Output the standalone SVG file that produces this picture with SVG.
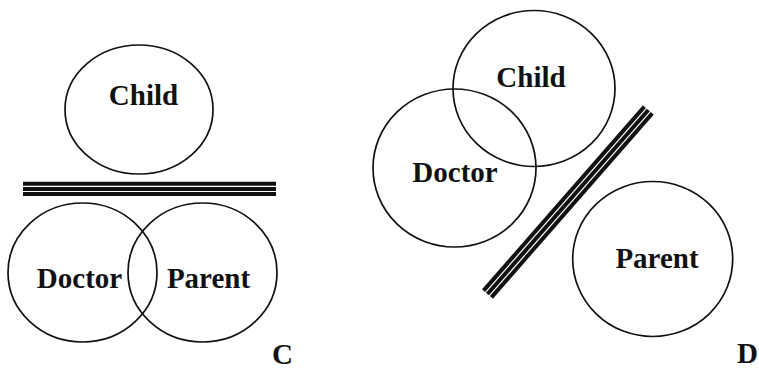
<svg xmlns="http://www.w3.org/2000/svg" width="759" height="370" viewBox="0 0 759 370">
<style>
.node ellipse{fill:none;stroke:#111;stroke-width:1.7}
text{font-family:"Liberation Serif","Times New Roman",serif;font-weight:bold;font-size:29px;fill:#111}
.lbl{text-anchor:middle}
.bar line{stroke:#111;stroke-width:4}
</style>
<rect width="759" height="370" fill="#fff"/>
<g id="C-child" class="node"><ellipse cx="139" cy="109.5" rx="74" ry="64.5"/><text class="lbl" x="143.5" y="105">Child</text></g>
<g id="C-doctor" class="node"><ellipse cx="82.5" cy="272.5" rx="74.5" ry="69.5"/><text class="lbl" x="79.5" y="288">Doctor</text></g>
<g id="C-parent" class="node"><ellipse cx="202.5" cy="272.5" rx="74.5" ry="69.5"/><text class="lbl" x="208.5" y="288">Parent</text></g>
<g id="connectors">
<g id="C-barrier" class="bar">
<line x1="23" y1="183.7" x2="276" y2="183.7"/>
<line x1="23" y1="188.9" x2="276" y2="188.9"/>
<line x1="23" y1="194" x2="276" y2="194"/>
</g>
<g id="D-barrier" class="bar" transform="translate(567.9,202) rotate(-48.85)">
<line x1="-122.2" y1="-5.2" x2="122.2" y2="-5.2"/>
<line x1="-122.2" y1="0" x2="122.2" y2="0"/>
<line x1="-122.2" y1="5.2" x2="122.2" y2="5.2"/>
</g>
</g>
<g id="D-child" class="node"><ellipse cx="534" cy="88.5" rx="81" ry="78"/><text class="lbl" x="531" y="87">Child</text></g>
<g id="D-doctor" class="node"><ellipse cx="454.5" cy="168" rx="81.5" ry="79"/><text class="lbl" x="455" y="182">Doctor</text></g>
<g id="D-parent" class="node"><ellipse cx="652.7" cy="259" rx="80" ry="77.5"/><text class="lbl" x="657" y="268">Parent</text></g>
<text x="272" y="364">C</text>
<text x="737" y="363">D</text>
</svg>
